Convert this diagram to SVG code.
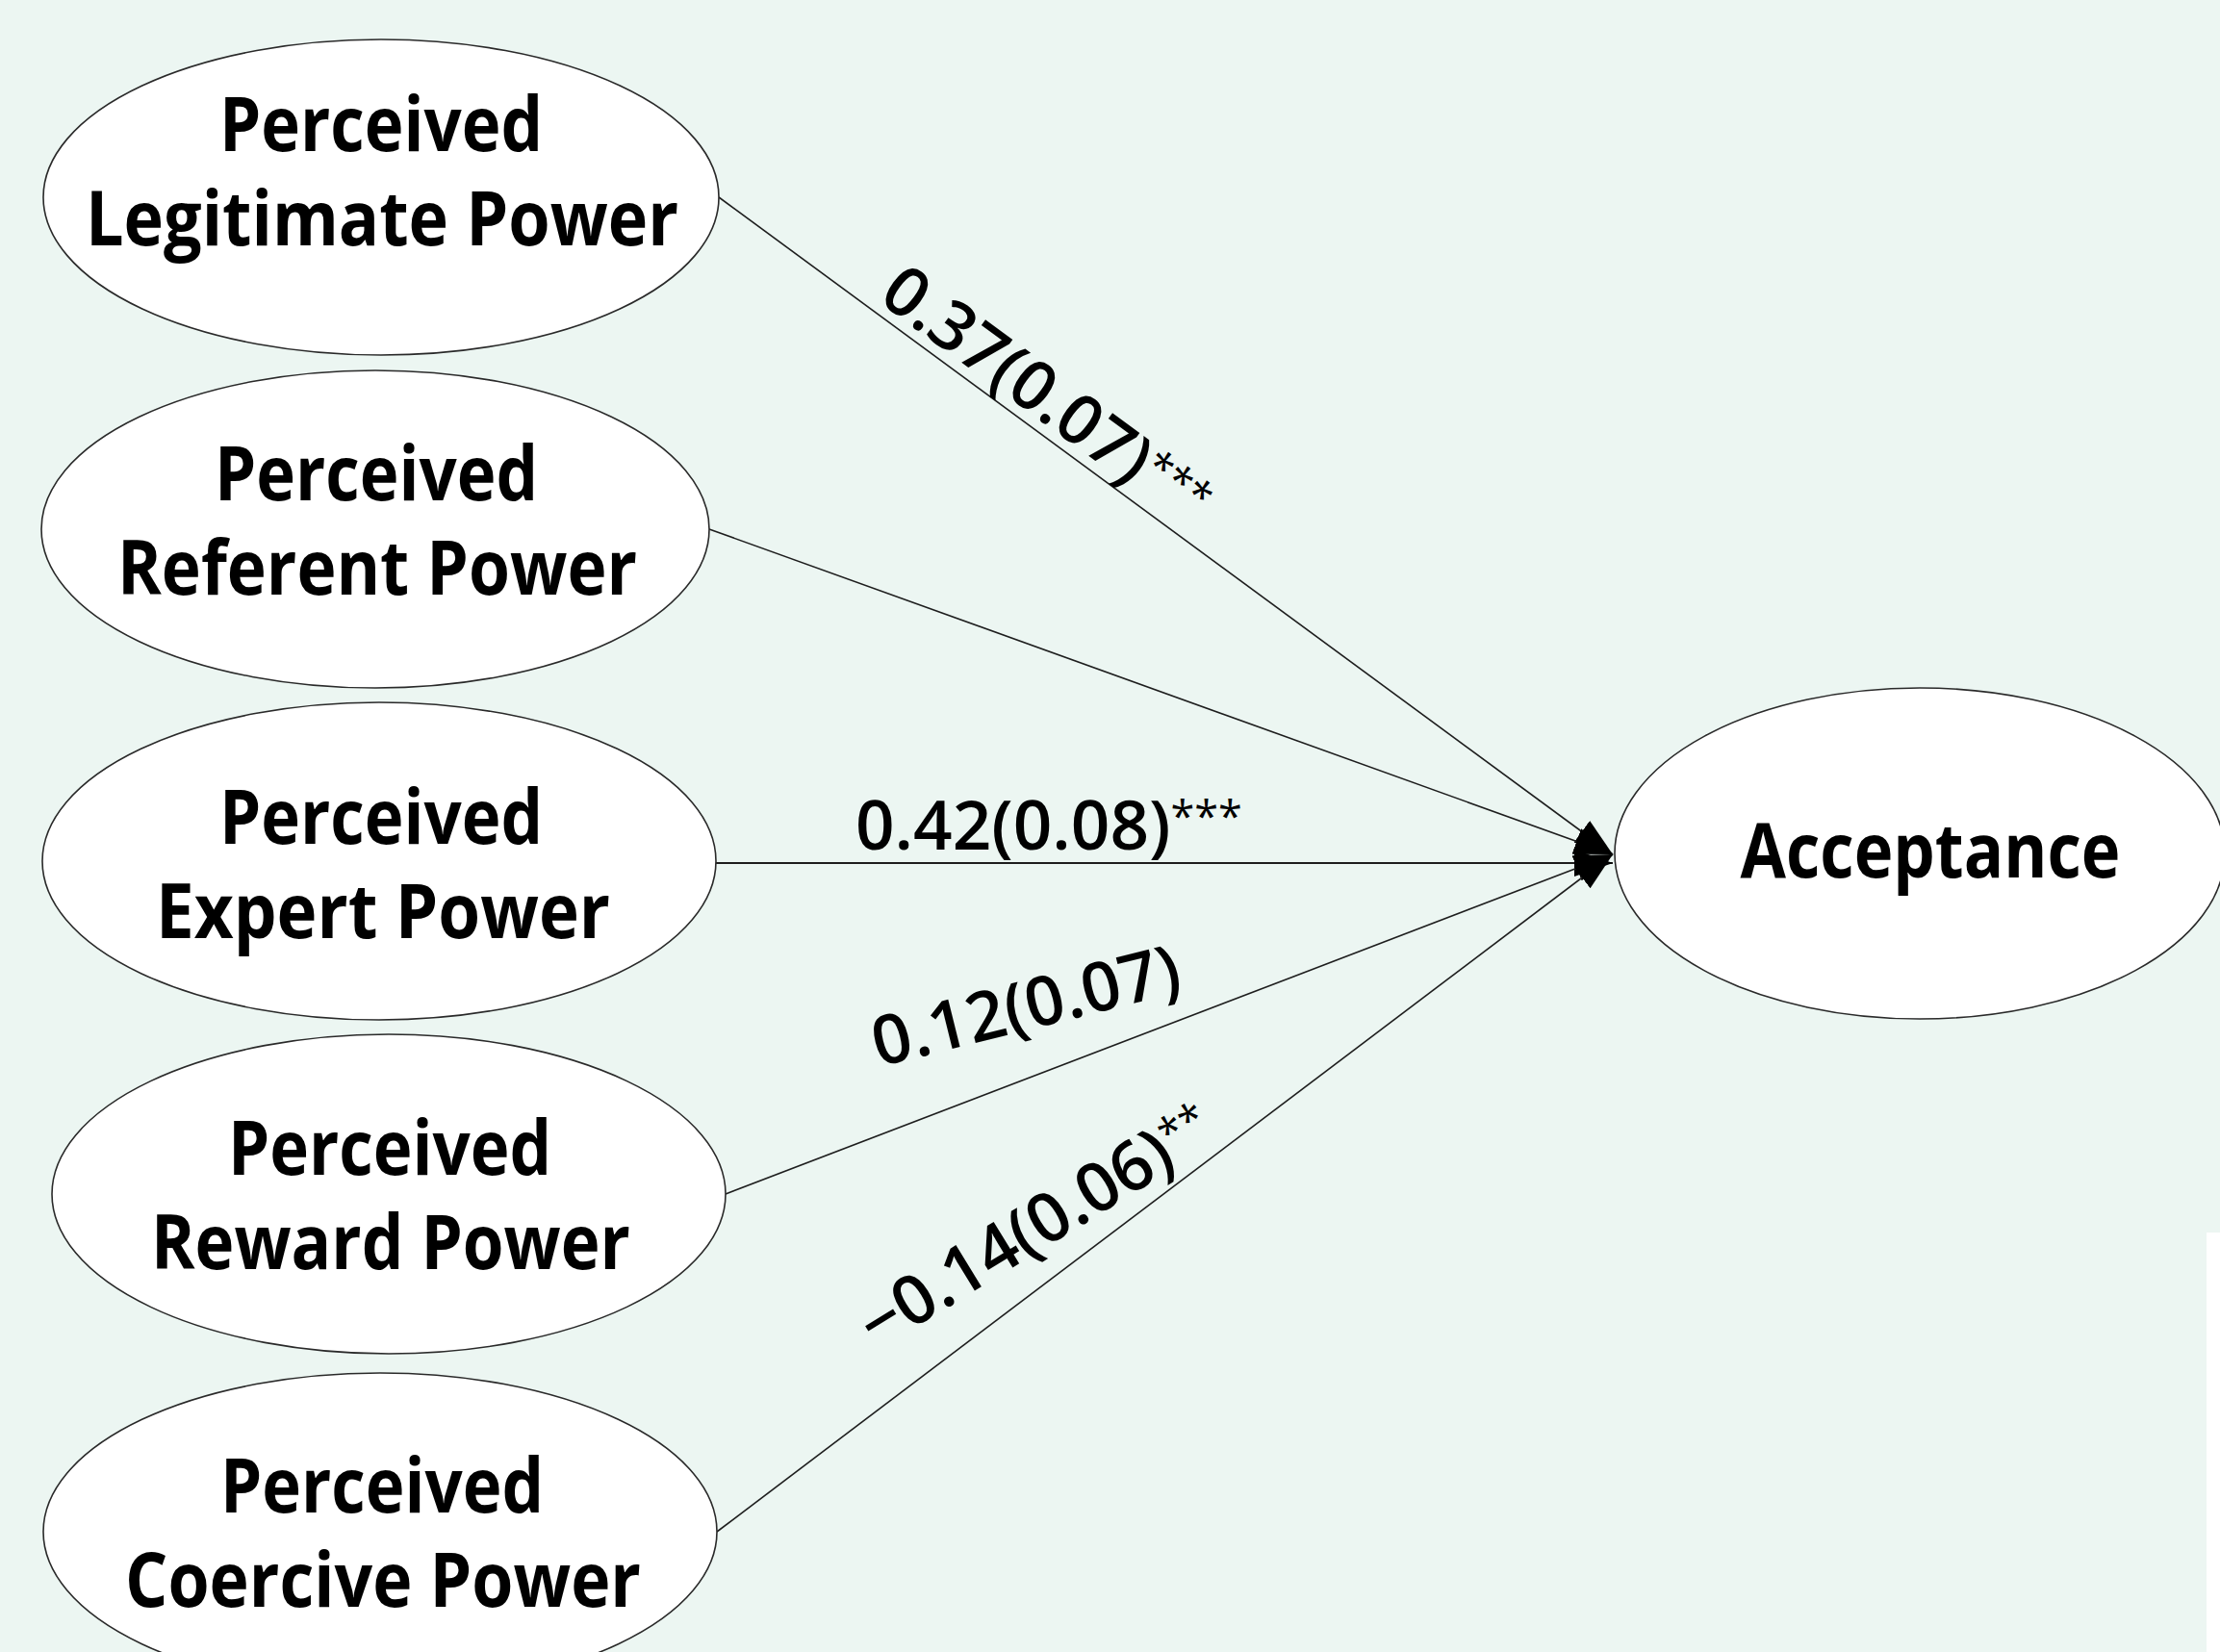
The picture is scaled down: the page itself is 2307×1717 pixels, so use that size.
<svg xmlns="http://www.w3.org/2000/svg" width="2307" height="1717" viewBox="0 0 2307 1717">
<style>
.node{fill:#ffffff;stroke:#2a2a2a;stroke-width:1.6}
.nl{font-family:"Open Sans","Noto Sans",sans-serif;font-weight:700;font-size:78px;fill:#000;text-anchor:middle}
.edge{stroke:#1e1e1e;stroke-width:1.6;fill:none;marker-end:url(#arr)}
.el{font-family:"Open Sans","Noto Sans",sans-serif;font-weight:600;font-size:71px;fill:#000}
.sup{font-size:45px;font-weight:500}
</style>
<defs>
<marker id="arr" viewBox="0 0 40 28" refX="40" refY="14" markerWidth="40" markerHeight="28" markerUnits="userSpaceOnUse" orient="auto">
<path d="M0,0 L40,14 L0,28 z" fill="#000"/>
</marker>
</defs>
<rect x="0" y="0" width="2307" height="1717" fill="#ecf6f2"/>
<rect x="2293" y="1281" width="14" height="436" fill="#ffffff"/>

<g id="connectors">
<line class="edge" x1="747" y1="205" x2="1676" y2="888"/>
<line class="edge" x1="737" y1="550" x2="1676" y2="888"/>
<line class="edge" x1="744" y1="897" x2="1676" y2="897" style="stroke-width:2"/>
<line class="edge" x1="754" y1="1241" x2="1676" y2="888"/>
<line class="edge" x1="745" y1="1592" x2="1676" y2="888"/>
<text class="el" transform="translate(911,312) rotate(36.3)">0.37(0.07)<tspan class="sup" dy="-18">***</tspan></text>
<text class="el" x="889" y="883">0.42(0.08)<tspan class="sup" dy="-18">***</tspan></text>
<text class="el" transform="translate(913,1109) rotate(-14)">0.12(0.07)</text>
<text class="el" transform="translate(911,1404) rotate(-31.5)">−0.14(0.06)<tspan class="sup" dy="-18">**</tspan></text>
</g>

<g id="legitimate">
<ellipse class="node" cx="396" cy="205" rx="351" ry="164"/>
<text class="nl" x="396" y="157" textLength="336" lengthAdjust="spacingAndGlyphs">Perceived</text>
<text class="nl" x="397" y="255" textLength="616" lengthAdjust="spacingAndGlyphs">Legitimate Power</text>
</g>

<g id="referent">
<ellipse class="node" cx="390" cy="550" rx="347" ry="165"/>
<text class="nl" x="391" y="520" textLength="336" lengthAdjust="spacingAndGlyphs">Perceived</text>
<text class="nl" x="392" y="618" textLength="540" lengthAdjust="spacingAndGlyphs">Referent Power</text>
</g>

<g id="expert">
<ellipse class="node" cx="394" cy="895" rx="350" ry="165"/>
<text class="nl" x="396" y="877" textLength="336" lengthAdjust="spacingAndGlyphs">Perceived</text>
<text class="nl" x="398" y="975" textLength="472" lengthAdjust="spacingAndGlyphs">Expert Power</text>
</g>

<g id="reward">
<ellipse class="node" cx="404" cy="1241" rx="350" ry="166"/>
<text class="nl" x="405" y="1221" textLength="336" lengthAdjust="spacingAndGlyphs">Perceived</text>
<text class="nl" x="406" y="1319" textLength="498" lengthAdjust="spacingAndGlyphs">Reward Power</text>
</g>

<g id="coercive">
<ellipse class="node" cx="395" cy="1592" rx="350" ry="165"/>
<text class="nl" x="397" y="1572" textLength="336" lengthAdjust="spacingAndGlyphs">Perceived</text>
<text class="nl" x="398" y="1670" textLength="536" lengthAdjust="spacingAndGlyphs">Coercive Power</text>
</g>

<g id="acceptance">
<ellipse class="node" cx="1995" cy="887" rx="317" ry="172"/>
<text class="nl" x="2006" y="912" textLength="395" lengthAdjust="spacingAndGlyphs">Acceptance</text>
</g>
</svg>
